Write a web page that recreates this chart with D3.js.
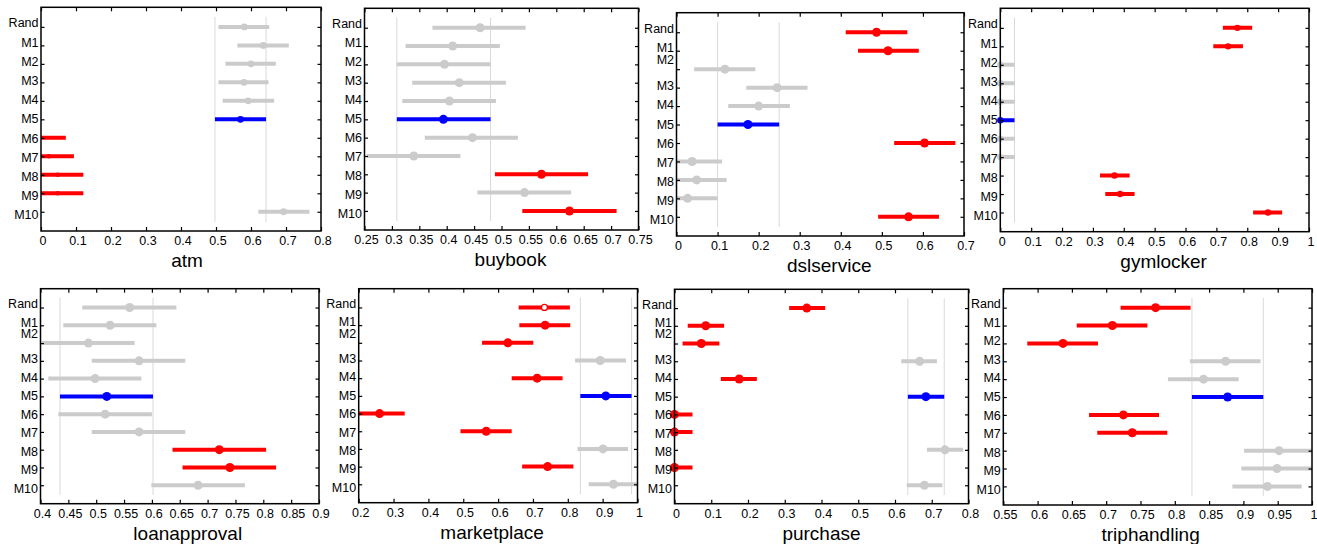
<!DOCTYPE html>
<html>
<head>
<meta charset="utf-8">
<script src="https://cdn.jsdelivr.net/npm/d3@7"></script>
<style>
  body { margin: 0; background: #fff; }
  svg { display: block; font-family: "Liberation Sans", Arial, sans-serif; }
</style>
</head>
<body>
<svg id="chart" width="1317" height="544"></svg>
<script>
const rows = ["Rand", "M1", "M2", "M3", "M4", "M5", "M6", "M7", "M8", "M9", "M10"];
const panels = ["atm", "buybook", "dslservice", "gymlocker", "loanapproval", "marketplace", "purchase", "triphandling"];
const xDomains = [[0, 0.8], [0.25, 0.75], [0, 0.7], [0, 1], [0.4, 0.9], [0.2, 1], [0, 0.8], [0.55, 1]];
const xTickCounts = [8, 10, 7, 10, 10, 8, 8, 9];

// g = overlaps M5, b = M5 (reference), r = significantly different
const atmLow  = [0.507, 0.561, 0.527, 0.507, 0.519, 0.497, -0.078, -0.048, -0.025, -0.025, 0.621];
const atmMean = [0.581, 0.635, 0.600, 0.580, 0.592, 0.570, -0.004, 0.023, 0.048, 0.048, 0.693];
const atmHigh = [0.652, 0.708, 0.671, 0.650, 0.666, 0.643, 0.071, 0.094, 0.121, 0.121, 0.767];
const atmSig  = "gggggbrrrrg";

const buybookLow  = [0.374, 0.325, 0.309, 0.337, 0.319, 0.309, 0.360, 0.254, 0.488, 0.456, 0.538];
const buybookMean = [0.461, 0.411, 0.396, 0.423, 0.405, 0.394, 0.447, 0.340, 0.573, 0.542, 0.624];
const buybookHigh = [0.544, 0.497, 0.480, 0.508, 0.490, 0.480, 0.530, 0.425, 0.658, 0.627, 0.710];
const buybookSig  = "gggggbggrgr";

const dslLow  = [0.412, 0.442, 0.043, 0.170, 0.126, 0.100, 0.530, -0.037, -0.025, -0.048, 0.491];
const dslMean = [0.487, 0.515, 0.118, 0.245, 0.200, 0.174, 0.604, 0.038, 0.049, 0.027, 0.565];
const dslHigh = [0.562, 0.590, 0.192, 0.319, 0.276, 0.250, 0.679, 0.111, 0.122, 0.100, 0.639];
const dslSig  = "rrgggbrgggr";

const gymLow  = [0.721, 0.690, -0.046, -0.046, -0.046, -0.046, -0.046, -0.046, 0.323, 0.340, 0.819];
const gymMean = [0.768, 0.738, 0, 0, 0, 0, 0, 0, 0.370, 0.388, 0.867];
const gymHigh = [0.816, 0.786, 0.046, 0.046, 0.046, 0.046, 0.046, 0.046, 0.419, 0.435, 0.913];
const gymSig  = "rrgggbggrrr";

const loanLow  = [0.475, 0.441, 0.402, 0.492, 0.414, 0.435, 0.432, 0.492, 0.637, 0.655, 0.599];
const loanMean = [0.560, 0.525, 0.486, 0.577, 0.498, 0.519, 0.516, 0.577, 0.721, 0.740, 0.683];
const loanHigh = [0.644, 0.608, 0.569, 0.660, 0.581, 0.602, 0.600, 0.660, 0.805, 0.823, 0.767];
const loanSig  = "gggggbggrrg";

const marketLow  = [0.659, 0.661, 0.554, 0.821, 0.639, 0.836, 0.187, 0.492, 0.828, 0.669, 0.860];
const marketMean = [0.733, 0.735, 0.628, 0.893, 0.712, 0.909, 0.260, 0.566, 0.901, 0.742, 0.931];
const marketHigh = [0.806, 0.807, 0.701, 0.967, 0.785, 0.983, 0.332, 0.639, 0.973, 0.816, 1.004];
const marketSig  = "rrrgrbrrgrg";

const purchaseLow  = [0.312, 0.036, 0.022, 0.617, 0.126, 0.635, -0.049, -0.049, 0.687, -0.049, 0.632];
const purchaseMean = [0.360, 0.085, 0.073, 0.667, 0.176, 0.684, 0, 0, 0.736, 0, 0.680];
const purchaseHigh = [0.410, 0.135, 0.122, 0.714, 0.224, 0.734, 0.049, 0.049, 0.785, 0.049, 0.729];
const purchaseSig  = "rrrgrbrrgrg";

const tripLow  = [0.721, 0.657, 0.585, 0.822, 0.790, 0.825, 0.675, 0.687, 0.901, 0.897, 0.884];
const tripMean = [0.772, 0.709, 0.637, 0.874, 0.842, 0.877, 0.725, 0.738, 0.952, 0.949, 0.935];
const tripHigh = [0.823, 0.760, 0.688, 0.925, 0.893, 0.929, 0.777, 0.789, 1.004, 1.001, 0.985];
const tripSig  = "rrrggbrrggg";

const series = [
  [atmLow, atmMean, atmHigh, atmSig],
  [buybookLow, buybookMean, buybookHigh, buybookSig],
  [dslLow, dslMean, dslHigh, dslSig],
  [gymLow, gymMean, gymHigh, gymSig],
  [loanLow, loanMean, loanHigh, loanSig],
  [marketLow, marketMean, marketHigh, marketSig],
  [purchaseLow, purchaseMean, purchaseHigh, purchaseSig],
  [tripLow, tripMean, tripHigh, tripSig],
];

// layout (pixel boxes of each axes)
const boxes = [
  { x0: 41, x1: 321, y0: 7.3, y1: 231 },
  { x0: 364.5, x1: 638.5, y0: 8.3, y1: 230 },
  { x0: 676.5, x1: 964, y0: 12.7, y1: 236 },
  { x0: 1000.3, x1: 1309, y0: 8.3, y1: 231.7 },
  { x0: 40.5, x1: 319, y0: 288.7, y1: 503.7 },
  { x0: 358.7, x1: 637.5, y0: 288.7, y1: 502.7 },
  { x0: 674.5, x1: 968.5, y0: 289.3, y1: 503.7 },
  { x0: 1003.3, x1: 1312, y0: 288.7, y1: 505 },
];
const titleDx = [6, 9, 9, 9, 8, -6, 0, -7];
const crowdedM2 = ["dslservice", "loanapproval", "marketplace", "purchase"];
const dotR = { atm: 3.4, gymlocker: 3.2 };
const colors = { g: "#cbcbcb", b: "#0000ff", r: "#ff0000" };

const svg = d3.select("#chart");
const fmt = d3.format("~g");
const refRow = rows.indexOf("M5");

panels.forEach((name, p) => {
  const b = boxes[p];
  const [low, mean, high, sig] = series[p];
  const x = d3.scaleLinear().domain(xDomains[p]).range([b.x0, b.x1]);
  const y = d3.scaleLinear().domain([-0.06, 12.04]).range([b.y0, b.y1]);
  const g = svg.append("g").attr("class", "panel");

  const clipId = `clip-${name}`;
  svg.append("defs").append("clipPath").attr("id", clipId)
    .append("rect").attr("x", b.x0).attr("y", b.y0)
    .attr("width", b.x1 - b.x0).attr("height", b.y1 - b.y0);

  const marks = g.append("g").attr("clip-path", `url(#${clipId})`);

  // reference lines at the M5 interval
  marks.selectAll("line.ref")
    .data([low[refRow], high[refRow]])
    .join("line")
    .attr("class", "ref")
    .attr("x1", (d) => x(d)).attr("x2", (d) => x(d))
    .attr("y1", y(0.45)).attr("y2", y(11.55))
    .attr("stroke", "#d9d9d9")
    .attr("stroke-width", 1);

  const data = rows.map((r, i) => ({ r, i, lo: low[i], m: mean[i], hi: high[i], s: sig[i] }));

  marks.selectAll("line.ci")
    .data(data)
    .join("line")
    .attr("class", "ci")
    .attr("x1", (d) => x(d.lo)).attr("x2", (d) => x(d.hi))
    .attr("y1", (d) => y(d.i + 1)).attr("y2", (d) => y(d.i + 1))
    .attr("stroke", (d) => colors[d.s])
    .attr("stroke-width", 4);

  // markers are only hidden when their centre falls outside the axes
  const dom = xDomains[p];
  g.selectAll("circle.m")
    .data(data.filter((d) => d.m >= dom[0] && d.m <= dom[1]))
    .join("circle")
    .attr("class", "m")
    .attr("cx", (d) => x(d.m))
    .attr("cy", (d) => y(d.i + 1))
    .attr("r", (d) => {
      if (name === "atm" && d.s === "r") return 2.2;
      if (name === "marketplace" && d.i === 0) return 3;
      return dotR[name] || 4.5;
    })
    .attr("fill", (d) => (name === "marketplace" && d.i === 0 ? "#fff" : colors[d.s]))
    .attr("stroke", (d) => (name === "marketplace" && d.i === 0 ? colors[d.s] : "none"))
    .attr("stroke-width", 1.3);

  // box + inward ticks
  const ticks = x.ticks(xTickCounts[p]);
  g.append("g")
    .attr("transform", `translate(0,${b.y1})`)
    .call(d3.axisBottom(x).tickValues(ticks).tickSizeInner(-4).tickSizeOuter(0)
      .tickPadding(5).tickFormat(fmt))
    .call((a) => a.select(".domain").remove())
    .call((a) => a.selectAll("text").attr("dx", 1.5).attr("font-size", 12.5)
      .attr("font-family", "Liberation Sans, Arial, sans-serif").attr("fill", "#000"));
  g.append("g")
    .attr("transform", `translate(0,${b.y0})`)
    .call(d3.axisTop(x).tickValues(ticks).tickSizeInner(-4).tickSizeOuter(0).tickFormat(""))
    .call((a) => a.select(".domain").remove());

  const rowVals = rows.map((r, i) => i + 1);
  g.append("g")
    .attr("transform", `translate(${b.x0},0)`)
    .call(d3.axisLeft(y).tickValues(rowVals).tickSizeInner(-3.5).tickSizeOuter(0).tickFormat(""))
    .call((a) => a.select(".domain").remove());
  g.append("g")
    .attr("transform", `translate(${b.x1},0)`)
    .call(d3.axisRight(y).tickValues(rowVals).tickSizeInner(-3.5).tickSizeOuter(0).tickFormat(""))
    .call((a) => a.select(".domain").remove());
  g.selectAll(".tick line").attr("stroke", "#000").attr("stroke-width", 1.2);

  g.append("rect")
    .attr("x", b.x0).attr("y", b.y0)
    .attr("width", b.x1 - b.x0).attr("height", b.y1 - b.y0)
    .attr("fill", "none").attr("stroke", "#000").attr("stroke-width", 1.5);

  // row labels
  g.selectAll("text.row")
    .data(data)
    .join("text")
    .attr("class", "row")
    .attr("x", b.x0 - 2.5)
    .attr("y", (d) => {
      let yy = y(d.i + 1) + (d.i - 5) * 0.7 - 0.5 + 4.5;
      if (d.r === "M2" && crowdedM2.includes(name)) yy -= 7;
      return yy;
    })
    .attr("text-anchor", "end")
    .attr("font-size", 12.5)
    .attr("fill", "#000")
    .text((d) => d.r);

  g.append("text")
    .attr("x", (b.x0 + b.x1) / 2 + titleDx[p])
    .attr("y", b.y1 + 36)
    .attr("text-anchor", "middle")
    .attr("font-size", 19)
    .attr("fill", "#000")
    .text(name);
});
</script>
</body>
</html>
